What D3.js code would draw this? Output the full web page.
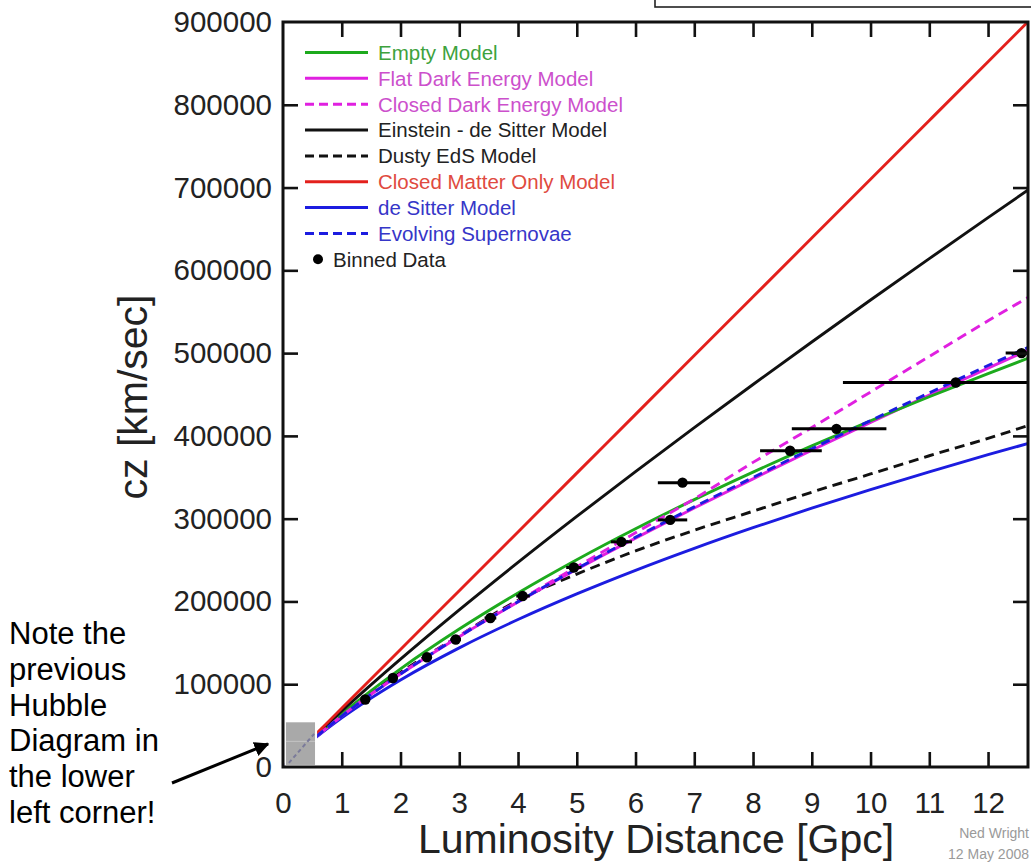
<!DOCTYPE html>
<html><head><meta charset="utf-8">
<script src="https://cdn.jsdelivr.net/npm/d3@7"></script>
<style>
body{margin:0;background:#fff;}
svg{display:block;font-family:"Liberation Sans",Arial,Helvetica,sans-serif;}
</style></head>
<body><svg id="c" width="1031" height="864"></svg>
<script>
// ---- data ----
const distances = [0,0.5,1,2,3,4,5,6,7,8,9,10,11,12,12.7];           // Gpc
const emptyModel   = [0,33610,64150,118560,166680,210270,250420,287830,323000,356280,387960,418240,447290,475260,494270];
const flatDE       = [0,32620,61480,112180,157480,199270,238840,276500,312830,348120,382570,416290,449330,481860,504310];
const closedDE     = [0,32650,61800,112800,158500,200500,242000,283000,324000,368000,410000,453000,496000,539000,568000];
const einsteinDeSitter = [0,34554,67590,130290,189850,247150,302710,356920,409990,462120,513470,564110,614130,663620,697990];
const dustyEdS     = [0,33300,63300,114200,158500,201500,233000,261000,286000,309000,332000,354000,376000,397000,413000];
const closedMatter = [0,35500,71000,142000,213000,284000,355000,426000,497000,568000,639000,710000,781000,852000,901700];
const deSitter     = [0,32078,59280,105140,143915,178140,209120,237630,264180,289130,312740,335200,356660,377260,391200];
const evolvingSN   = [0,32620,61500,112400,157800,199700,239500,277500,314200,349800,384500,418500,452000,485000,507500];

const binD   = [1.40,1.87,2.45,2.94,3.53,4.08,4.95,5.76,6.59,6.80,8.63,9.42,11.45,12.57];
const binV   = [81500,107500,132500,154000,180000,206500,241000,272000,298500,343500,382000,408500,464500,500000];
const binLo  = [1.33,1.80,2.37,2.85,3.43,3.97,4.82,5.58,6.38,6.38,8.12,8.66,9.53,12.30];
const binHi  = [1.47,1.95,2.53,3.03,3.63,4.20,5.08,5.94,6.88,7.27,9.17,10.27,13.40,13.50];

const xTicks = [0,1,2,3,4,5,6,7,8,9,10,11,12];
const yTicks = [0,100000,200000,300000,400000,500000,600000,700000,800000,900000];

const legendLabels = ["Empty Model","Flat Dark Energy Model","Closed Dark Energy Model","Einstein - de Sitter Model","Dusty EdS Model","Closed Matter Only Model","de Sitter Model","Evolving Supernovae","Binned Data"];

const noteLines = ["Note the","previous","Hubble","Diagram in","the lower","left corner!"];

// ---- styles ----
const GREEN="#1daa1d", MAG="#e020e0", RED="#e3201c", BLUE="#1c1ce0", BLK="#111";
const series = [
  {v:deSitter, c:BLUE, dash:null},
  {v:dustyEdS, c:BLK, dash:"10,6"},
  {v:flatDE, c:MAG, dash:null},
  {v:emptyModel, c:GREEN, dash:null},
  {v:einsteinDeSitter, c:BLK, dash:null},
  {v:closedMatter, c:RED, dash:null},
  {v:closedDE, c:MAG, dash:"10,6"},
  {v:evolvingSN, c:BLUE, dash:"9,6"}
];
const legendStyle = [
  {c:GREEN,dash:null,tc:"#3da23d"},
  {c:MAG,dash:null,tc:"#cc50cc"},
  {c:MAG,dash:"9,5",tc:"#cc50cc"},
  {c:BLK,dash:null,tc:"#222"},
  {c:BLK,dash:"9,5",tc:"#222"},
  {c:RED,dash:null,tc:"#e04a40"},
  {c:BLUE,dash:null,tc:"#3636c8"},
  {c:BLUE,dash:"9,5",tc:"#3636c8"},
  {dot:true,tc:"#222"}
];

const svg = d3.select("#c");
const L=283, R=1028, T=22, B=767;
const x = d3.scaleLinear().domain([0,12.68]).range([L,R]);
const y = d3.scaleLinear().domain([0,900000]).range([B,T]);

svg.append("defs").append("clipPath").attr("id","pc")
  .append("rect").attr("x",L).attr("y",T).attr("width",R-L).attr("height",B-T);

// top box
svg.append("rect").attr("x",655).attr("y",-5).attr("width",400).attr("height",12)
  .attr("fill","none").attr("stroke","#222").attr("stroke-width",1.6);

// curves
const line = d3.line().x((d,i)=>x(distances[i])).y(d=>y(d)).curve(d3.curveMonotoneX);
const g = svg.append("g").attr("clip-path","url(#pc)");
series.forEach(s=>{
  g.append("path").attr("d",line(s.v)).attr("fill","none")
   .attr("stroke",s.c).attr("stroke-width",2.9)
   .attr("stroke-dasharray",s.dash);
});

// binned data
binD.forEach((d,i)=>{
  g.append("line").attr("x1",x(binLo[i])).attr("x2",x(binHi[i]))
   .attr("y1",y(binV[i])).attr("y2",y(binV[i]))
   .attr("stroke","#000").attr("stroke-width",3);
  g.append("circle").attr("cx",x(d)).attr("cy",y(binV[i])).attr("r",5.2).attr("fill","#000");
});

// inset (previous Hubble diagram thumbnail)
svg.append("rect").attr("x",x(0.02)).attr("y",y(57000)).attr("width",x(0.58)-x(0.02)).attr("height",y(1000)-y(57000)).attr("fill","#fff");
svg.append("rect").attr("x",x(0.05)).attr("y",y(54000)).attr("width",x(0.545)-x(0.05)).attr("height",y(2500)-y(54000)).attr("fill","#a9a9a9");
svg.append("line").attr("x1",x(0.05)).attr("x2",x(0.545)).attr("y1",y(31000)).attr("y2",y(31000)).attr("stroke","#c4c4c4").attr("stroke-width",1);
svg.append("line").attr("x1",x(0.1)).attr("x2",x(0.53)).attr("y1",y(5000)).attr("y2",y(40000)).attr("stroke","#7a7a9a").attr("stroke-width",2).attr("stroke-dasharray","4,3");

// axes
const fontTick = 29.5;
const ax = (gen)=>gen.tickSizeInner(-15).tickSizeOuter(0);
const gb = svg.append("g").attr("transform",`translate(0,${B})`)
  .call(ax(d3.axisBottom(x)).tickValues(xTicks).tickPadding(25).tickFormat(d3.format("d")));
const gl = svg.append("g").attr("transform",`translate(${L},0)`)
  .call(ax(d3.axisLeft(y)).tickValues(yTicks).tickPadding(11).tickFormat(d3.format("d")));
const gt = svg.append("g").attr("transform",`translate(0,${T})`)
  .call(ax(d3.axisTop(x)).tickValues(xTicks.slice(1)).tickFormat(""));
const gr = svg.append("g").attr("transform",`translate(${R},0)`)
  .call(ax(d3.axisRight(y)).tickValues(yTicks.slice(1,-1)).tickFormat(""));
[gb,gl,gt,gr].forEach(a=>{
  a.select(".domain").remove();
  a.selectAll(".tick line").attr("stroke","#111").attr("stroke-width",2.6);
  a.selectAll(".tick text").attr("font-size",fontTick).attr("fill","#222")
   .attr("font-family","Liberation Sans, Arial, sans-serif");
});
gb.selectAll(".tick").filter(d=>d===0).select("line").remove();
gl.selectAll(".tick").filter(d=>d===0||d===900000).select("line").remove();

// frame
svg.append("rect").attr("x",L).attr("y",T).attr("width",R-L).attr("height",B-T)
  .attr("fill","none").attr("stroke","#111").attr("stroke-width",3);

// axis titles
svg.append("text").attr("x",656).attr("y",853).attr("text-anchor","middle")
  .attr("font-size",41).attr("fill","#222").text("Luminosity Distance [Gpc]");
svg.append("text").attr("transform","translate(147,397) rotate(-90)").attr("text-anchor","middle")
  .attr("font-size",41).attr("fill","#222").text("cz [km/sec]");

// legend
const lg = svg.append("g");
legendLabels.forEach((lab,i)=>{
  const yy = 52.5 + i*25.85, st = legendStyle[i];
  if(st.dot){
    lg.append("circle").attr("cx",318).attr("cy",yy).attr("r",5).attr("fill","#000");
    lg.append("text").attr("x",333).attr("y",yy).attr("dy","0.36em").attr("font-size",20.5).attr("fill",st.tc).text(lab);
  } else {
    lg.append("line").attr("x1",305).attr("x2",368).attr("y1",yy).attr("y2",yy)
      .attr("stroke",st.c).attr("stroke-width",3).attr("stroke-dasharray",st.dash);
    lg.append("text").attr("x",378).attr("y",yy).attr("dy","0.36em").attr("font-size",20.5).attr("fill",st.tc).text(lab);
  }
});

// credit
svg.append("text").attr("x",1029).attr("y",838).attr("text-anchor","end").attr("font-size",14).attr("fill","#9a9a9a").text("Ned Wright");
svg.append("text").attr("x",1029).attr("y",859).attr("text-anchor","end").attr("font-size",14).attr("fill","#9a9a9a").text("12 May 2008");

// note
noteLines.forEach((t,i)=>{
  svg.append("text").attr("x",9).attr("y",644+i*35.8).attr("font-size",31).attr("fill","#000").text(t);
});
svg.append("defs").append("marker").attr("id","ah").attr("viewBox","0 0 10 10")
  .attr("refX",9).attr("refY",5).attr("markerWidth",5).attr("markerHeight",5).attr("orient","auto")
  .append("path").attr("d","M0,0L10,5L0,10z").attr("fill","#000");
svg.append("line").attr("x1",172).attr("y1",783).attr("x2",268).attr("y2",744)
  .attr("stroke","#000").attr("stroke-width",3).attr("marker-end","url(#ah)");
</script></body></html>
